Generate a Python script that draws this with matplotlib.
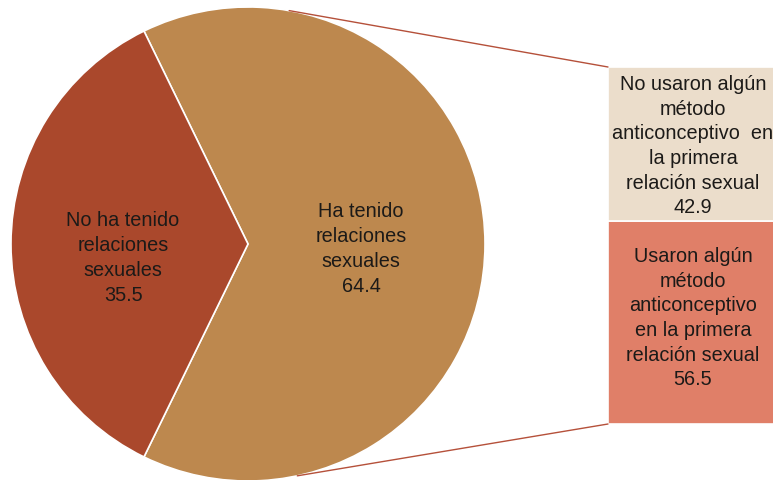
import matplotlib.pyplot as plt
import numpy as np
from matplotlib.patches import ConnectionPatch

plt.rcParams['font.family'] = ['Liberation Sans', 'DejaVu Sans']

# pie data
pie_labels = ['Ha tenido\nrelaciones\nsexuales', 'No ha tenido\nrelaciones\nsexuales']
pie_values = [64.4, 35.5]
pie_colors = ['#BD884E', '#AA482C']

# bar data (bottom to top)
bar_labels = ['Usaron algún\nmétodo\nanticonceptivo\nen la primera\nrelación sexual',
              'No usaron algún\nmétodo\nanticonceptivo  en\nla primera\nrelación sexual']
bar_values = [56.5, 42.9]
bar_colors = ['#E07F68', '#EBDDCB']

W, H = 773, 481
fig = plt.figure(figsize=(W / 100, H / 100), dpi=100)
txt_kw = dict(ha='center', va='center', fontsize=14.3, color='#1c1a18',
              linespacing=1.38)

# pie axes: a square box around the circle
cx, cy, r = 248, 245, 237
ax1 = fig.add_axes([(cx - r) / W, (H - cy - r) / H, 2 * r / W, 2 * r / H])
start = -pie_values[0] / sum(pie_values) * 180
wedges, _ = ax1.pie(pie_values, colors=pie_colors, startangle=start,
                    wedgeprops=dict(edgecolor='white', linewidth=1.2),
                    radius=1)
ax1.set_xlim(-1, 1)
ax1.set_ylim(-1, 1)
ax1.set_aspect('equal')
ax1.axis('off')

dists = [0.477, 0.527]
yoffs = [-0.017, -0.055]
for w, lab, val, d, dy in zip(wedges, pie_labels, pie_values, dists, yoffs):
    ang = np.deg2rad((w.theta1 + w.theta2) / 2)
    ax1.text(d * np.cos(ang), d * np.sin(ang) + dy, f'{lab}\n{val}', **txt_kw)

# bar axes
bx0, bx1, btop, bbot = 608, 778, 68, 425
ax2 = fig.add_axes([bx0 / W, (H - bbot) / H, (bx1 - bx0) / W, (bbot - btop) / H])
bottom = 0
yshift = [1.5, -0.3]
for lab, val, col, ys in zip(bar_labels, bar_values, bar_colors, yshift):
    ax2.bar(0, val, width=1, bottom=bottom, color=col, align='edge',
            edgecolor='white', linewidth=1.2)
    ax2.text(0.5, bottom + val / 2 + ys, f'{lab}\n{val}', **txt_kw)
    bottom += val
ax2.set_xlim(0, 1)
ax2.set_ylim(0, bottom)
ax2.axis('off')

# connector lines from the pie to the bar
for ang, yb in [(80, bottom), (-78, 0)]:
    a = np.deg2rad(ang)
    con = ConnectionPatch(xyA=(0, yb), coordsA=ax2.transData,
                          xyB=(np.cos(a), np.sin(a)), coordsB=ax1.transData,
                          color='#B5503A', linewidth=1)
    fig.add_artist(con)

plt.savefig('out.png', dpi=100)
